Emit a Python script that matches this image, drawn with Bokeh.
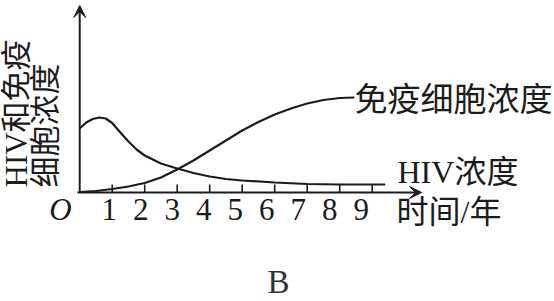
from bokeh.plotting import figure
from bokeh.models import Range1d, Arrow, VeeHead, Label, ColumnDataSource
from bokeh.core.properties import value
from bokeh.embed import file_html
from bokeh.resources import INLINE

# ---- data ----
hiv_years = [0, 0.2, 0.4, 0.6, 0.8, 1.0, 1.25, 1.5, 1.75, 2.0, 2.5, 3.0, 3.5, 4.0, 4.5, 5.0, 6.0, 7.0, 8.0, 9.4]
hiv_conc = [64, 70, 73.5, 75, 74, 69.5, 60, 51, 43, 37, 29, 24, 19.5, 16, 13.5, 12, 10, 8.5, 8, 8]

imm_years = [0, 0.5, 1, 1.5, 2, 2.5, 3, 3.5, 4, 4.5, 5, 5.5, 6, 6.5, 7, 7.5, 8, 8.45]
imm_conc = [0.5, 1.5, 3.5, 6, 9.5, 15, 23, 32, 42, 52, 62, 70.5, 78, 84, 89, 92.5, 94.5, 95]

tick_years = [1, 2, 3, 4, 5, 6, 7, 8, 9]
tick_labels = ["1", "2", "3", "4", "5", "6", "7", "8", "9"]
origin_label = "O"
x_axis_end = 10.52
y_axis_end = 187

hiv_name = "HIV浓度"
imm_name = "免疫细胞浓度"
x_title = "时间/年"
y_title_1 = "HIV和免疫"
y_title_2 = "细胞浓度"
caption = "B"

# ---- pixel helpers for placement ----
W, H = 554, 301
X0, SX = 79.2, 32.5
Y0 = 192


def X(px):
    return (px - X0) / SX


def Y(py):
    return Y0 - py


INK = "#1c1c1c"
FONT = "Liberation Serif, Noto Sans CJK SC"
LATIN = "Liberation Serif"

p = figure(width=W, height=H, output_backend="svg", toolbar_location=None,
           x_range=Range1d(X(0), X(W)), y_range=Range1d(Y(H), Y(0)),
           x_axis_type=None, y_axis_type=None, min_border=0)
p.outline_line_color = None
p.grid.visible = False
p.background_fill_color = "white"
p.border_fill_color = "white"

# axes with arrows
p.add_layout(Arrow(x_start=X(77), y_start=0, x_end=x_axis_end, y_end=0,
                   line_color=INK, line_width=2,
                   end=VeeHead(size=12, fill_color=INK, line_color=INK)))
p.add_layout(Arrow(x_start=0, y_start=0, x_end=0, y_end=y_axis_end,
                   line_color=INK, line_width=2,
                   end=VeeHead(size=12, fill_color=INK, line_color=INK)))

# ticks (pointing inward / upward)
p.segment(x0=tick_years, y0=[0] * len(tick_years), x1=tick_years, y1=[8] * len(tick_years),
          line_color=INK, line_width=1.6)

# tick labels
tsrc = ColumnDataSource(dict(x=tick_years, y=[Y(209)] * len(tick_years), t=tick_labels,
                             xo=[-2 - t for t in tick_years]))
p.text(x="x", y="y", text="t", x_offset="xo", source=tsrc, text_font=value(LATIN),
       text_font_size=value("31px"), text_align="center", text_baseline="middle", text_color=INK)
p.add_layout(Label(x=X(60), y=Y(209), text=origin_label, text_font=LATIN,
                   text_font_style="italic", text_font_size="31px", text_align="center",
                   text_baseline="middle", text_color=INK))

# curves
p.line(hiv_years, hiv_conc, line_color=INK, line_width=2.2)
p.line(imm_years, imm_conc, line_color=INK, line_width=2.2)

# curve names and axis titles
p.add_layout(Label(x=X(354), y=Y(99), text=imm_name, text_font=FONT, text_font_size="33px",
                   text_align="left", text_baseline="middle", text_color=INK))
p.add_layout(Label(x=X(397), y=Y(171), text=hiv_name, text_font=FONT, text_font_size="32px",
                   text_align="left", text_baseline="middle", text_color=INK))
p.add_layout(Label(x=X(396), y=Y(211), text=x_title, text_font=FONT, text_font_size="32px",
                   text_align="left", text_baseline="middle", text_color=INK))
p.add_layout(Label(x=X(16), y=Y(187), text=y_title_1, angle=1.5708, text_font=FONT,
                   text_font_size="31px", text_align="left", text_baseline="middle", text_color=INK))
p.add_layout(Label(x=X(45), y=Y(187), text=y_title_2, angle=1.5708, text_font=FONT,
                   text_font_size="31px", text_align="left", text_baseline="middle", text_color=INK))
p.add_layout(Label(x=X(278), y=Y(281), text=caption, text_font=LATIN, text_font_size="33px",
                   text_align="center", text_baseline="middle", text_color="#333333"))

open("out.html", "w").write(file_html(p, INLINE))
